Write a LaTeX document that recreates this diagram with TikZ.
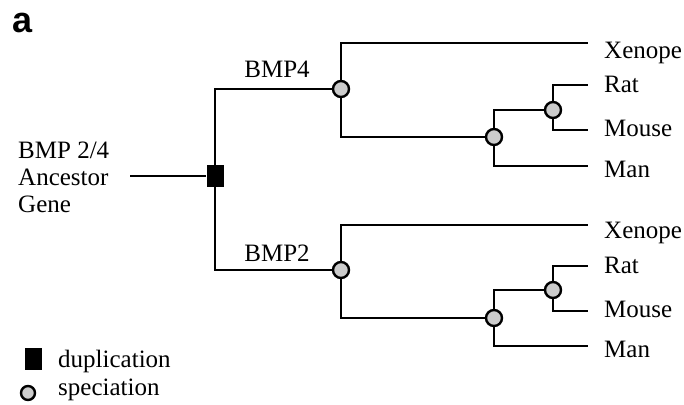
\documentclass[tikz,border=0pt]{standalone}
\usepackage{fontspec}
\setmainfont{Liberation Serif}
\newfontfamily\labelfont{Liberation Sans}
\begin{document}
\begin{tikzpicture}[x=1pt,y=-1pt,
  branch/.style={line width=1.8pt,black},
  dup/.style={rectangle,fill=black,minimum width=17pt,minimum height=22pt,inner sep=0pt},
  spec/.style={circle,draw=black,line width=2.4pt,fill=gray!40,minimum size=16pt,inner sep=0pt},
  lab/.style={anchor=base west,inner sep=0pt,font=\fontsize{25}{28}\selectfont},
  every node/.append style={font=\fontsize{25}{28}\selectfont}]
\useasboundingbox (0,0) rectangle (684,404);
\node[anchor=base west,inner sep=0pt,font=\labelfont\bfseries\fontsize{36}{36}\selectfont] (lbl) at (12,33) {a};
% ancestor
\node[anchor=base west,inner sep=0pt] (anctxt) at (18,158) {BMP 2/4};
\node[anchor=base west,inner sep=0pt] (anctxt2) at (18,185) {Ancestor};
\node[anchor=base west,inner sep=0pt] (anctxt3) at (18,212) {Gene};
\coordinate (anc) at (130,176);
\node[dup] (d) at (215,176) {};
\node[spec] (s4) at (341,89) {};
\node[spec] (s2) at (341,270) {};
\draw[branch] (anc) -- (d.west);
\draw[branch] (d) |- (s4);
\draw[branch] (d) |- (s2);
\node[anchor=base,inner sep=0pt] (bmp4) at (277,77) {BMP4};
\node[anchor=base,inner sep=0pt] (bmp2) at (277,261) {BMP2};
% BMP4 subtree
\coordinate (x4) at (588,43);
\node[spec] (h4) at (494,137) {};
\node[spec] (r4) at (553,110) {};
\coordinate (man4) at (588,166);
\coordinate (rat4) at (588,85);
\coordinate (mouse4) at (588,130);
\draw[branch] (s4) |- (x4);
\draw[branch] (s4) |- (h4);
\draw[branch] (h4) |- (r4);
\draw[branch] (h4) |- (man4);
\draw[branch] (r4) |- (rat4);
\draw[branch] (r4) |- (mouse4);
\node[lab] (tx4) at (604,58) {Xenope};
\node[lab] (tr4) at (604,92) {Rat};
\node[lab] (tm4) at (604,136) {Mouse};
\node[lab] (tn4) at (604,177) {Man};
% BMP2 subtree
\coordinate (x2) at (588,225);
\node[spec] (h2) at (494,318) {};
\node[spec] (r2) at (553,290) {};
\coordinate (man2) at (588,346);
\coordinate (rat2) at (588,266);
\coordinate (mouse2) at (588,311);
\draw[branch] (s2) |- (x2);
\draw[branch] (s2) |- (h2);
\draw[branch] (h2) |- (r2);
\draw[branch] (h2) |- (man2);
\draw[branch] (r2) |- (rat2);
\draw[branch] (r2) |- (mouse2);
\node[lab] (tx2) at (604,238) {Xenope};
\node[lab] (tr2) at (604,273) {Rat};
\node[lab] (tm2) at (604,317) {Mouse};
\node[lab] (tn2) at (604,357) {Man};
% legend
\node[dup] (ld) at (33.5,359) {};
\node[lab] (ldt) at (58,367) {duplication};
\node[spec,minimum size=14pt] (ls) at (28,393) {};
\node[lab] (lst) at (58,395) {speciation};
\end{tikzpicture}
\end{document}
